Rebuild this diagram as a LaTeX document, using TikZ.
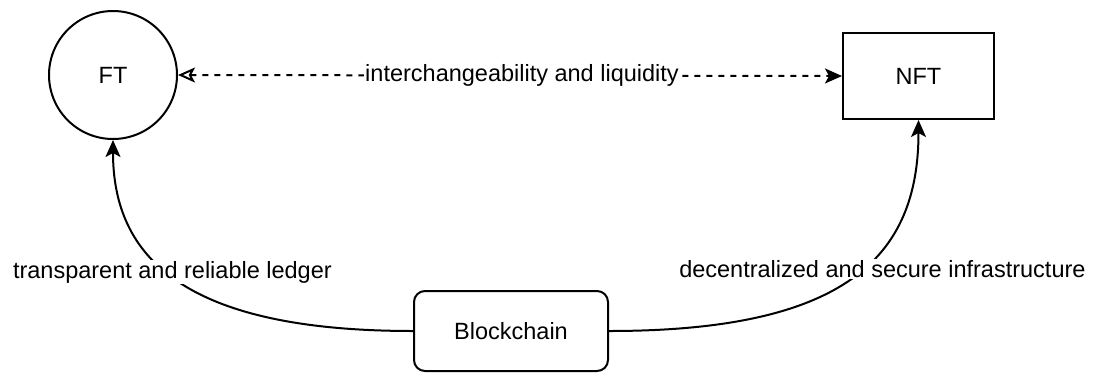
\documentclass[tikz,border=0pt]{standalone}
\usepackage{fontspec}
\setmainfont{Liberation Sans}
\usetikzlibrary{arrows.meta}
\begin{document}
\begin{tikzpicture}[x=1pt,y=-1pt,
  every node/.style={font=\fontsize{23.5}{28}\selectfont},
  shapeline/.style={draw=black,line width=2pt},
  tip/.style={Stealth[length=17pt,width=15pt,inset=4pt]},
  conn/.style={line width=2pt,-{Stealth[length=17pt,width=15pt,inset=4pt]}},
  lbl/.style={fill=white,inner sep=1pt}]
\useasboundingbox (0,0) rectangle (1094,373);
\node[shapeline,circle,minimum size=128pt,inner sep=0pt] (ft) at (113,75) {FT};
\node[shapeline,rectangle,minimum width=151pt,minimum height=86pt,inner sep=0pt] (nft) at (918.5,76) {NFT};
\node[shapeline,rectangle,rounded corners=11pt,minimum width=194pt,minimum height=80pt,inner sep=0pt] (bc) at (511,331) {Blockchain};
\draw[line width=2pt,dashed,dash pattern=on 6pt off 6pt,
  {Stealth[open,length=17pt,width=15pt,inset=4pt]}-{Stealth[length=17pt,width=15pt,inset=4pt]}]
  (ft.east) -- node[lbl,xshift=12pt]{interchangeability and liquidity} (nft.west);
\draw[conn] (bc.west) .. controls (185,331) and (113,258) .. node[lbl,pos=0.55,xshift=8pt,yshift=-3pt]{transparent and reliable ledger} (ft.south);
\draw[conn] (bc.east) .. controls (844,331) and (918.5,258) .. node[lbl,pos=0.55,xshift=17pt,yshift=-3pt]{decentralized and secure infrastructure} (nft.south);
\end{tikzpicture}
\end{document}
